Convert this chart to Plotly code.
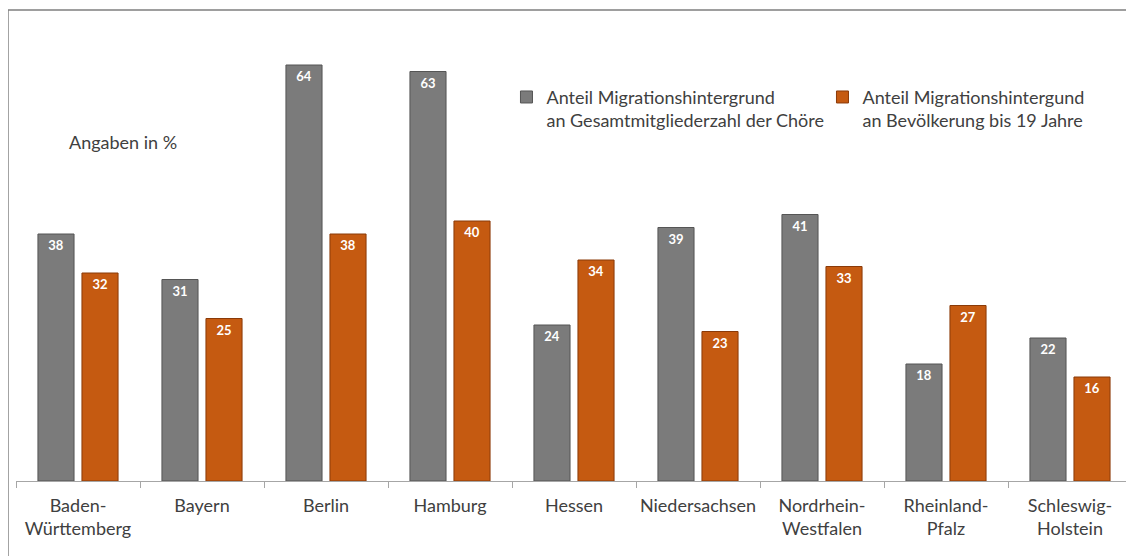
import plotly.graph_objects as go

categories = ["Baden-<br>Württemberg", "Bayern", "Berlin", "Hamburg", "Hessen",
              "Niedersachsen", "Nordrhein-<br>Westfalen", "Rheinland-<br>Pfalz", "Schleswig-<br>Holstein"]
choir_share = [38, 31, 64, 63, 24, 39, 41, 18, 22]
population_share = [32, 25, 38, 40, 34, 23, 33, 27, 16]
series_names = ["Anteil Migrationshintergrund<br>an Gesamtmitgliederzahl der Chöre",
                "Anteil Migrationshintergund<br>an Bevölkerung bis 19 Jahre"]

FONT = "Lato"
TEXT_COLOR = "#404040"

fig = go.Figure()
fig.add_trace(go.Bar(
    x=categories, y=choir_share, name=series_names[0],
    marker=dict(color="#7b7b7b", line=dict(color="#555555", width=1)),
    text=choir_share, textposition="inside", insidetextanchor="end",
    textfont=dict(family=FONT, size=13, color="white", weight="bold"),
    textangle=0,
))
fig.add_trace(go.Bar(
    x=categories, y=population_share, name=series_names[1],
    marker=dict(color="#c55a11", line=dict(color="#8a3a08", width=1)),
    text=population_share, textposition="inside", insidetextanchor="end",
    textfont=dict(family=FONT, size=13, color="white", weight="bold"),
    textangle=0,
))

fig.update_layout(
    width=1126, height=548,
    margin=dict(l=8, r=2, t=18, b=75, autoexpand=False),
    paper_bgcolor="white", plot_bgcolor="white",
    barmode="group", bargap=0.29, bargroupgap=0.18,
    font=dict(family=FONT, size=18, color=TEXT_COLOR),
    showlegend=True,
    legend=dict(
        orientation="h", x=0.4395, y=0.884, xanchor="left", yanchor="top",
        font=dict(family=FONT, size=18, color=TEXT_COLOR),
        itemwidth=30, entrywidth=271, valign="top",
        bgcolor="rgba(0,0,0,0)",
    ),
    xaxis=dict(
        showline=True, linecolor="#a6a6a6", linewidth=1,
        ticks="outside", tickson="boundaries", ticklen=6, tickcolor="#a6a6a6",
        tickfont=dict(family=FONT, size=18, color=TEXT_COLOR),
        tickangle=0, showgrid=False, ticklabelstandoff=8,
    ),
    yaxis=dict(
        range=[0, 70], visible=False, showgrid=False, zeroline=False,
    ),
    annotations=[dict(
        text="Angaben in %", xref="paper", yref="paper", x=0.0457, y=0.745,
        xanchor="left", yanchor="middle", showarrow=False,
        font=dict(family=FONT, size=18, color=TEXT_COLOR),
    )],
    shapes=[dict(
        type="path", xref="paper", yref="paper",
        path="M -0.0072,-0.3 L -0.0072,1.035 L 1.1,1.035",
        line=dict(color="#7f7f7f", width=1.5),
    )],
)

fig.write_html("out.html")
